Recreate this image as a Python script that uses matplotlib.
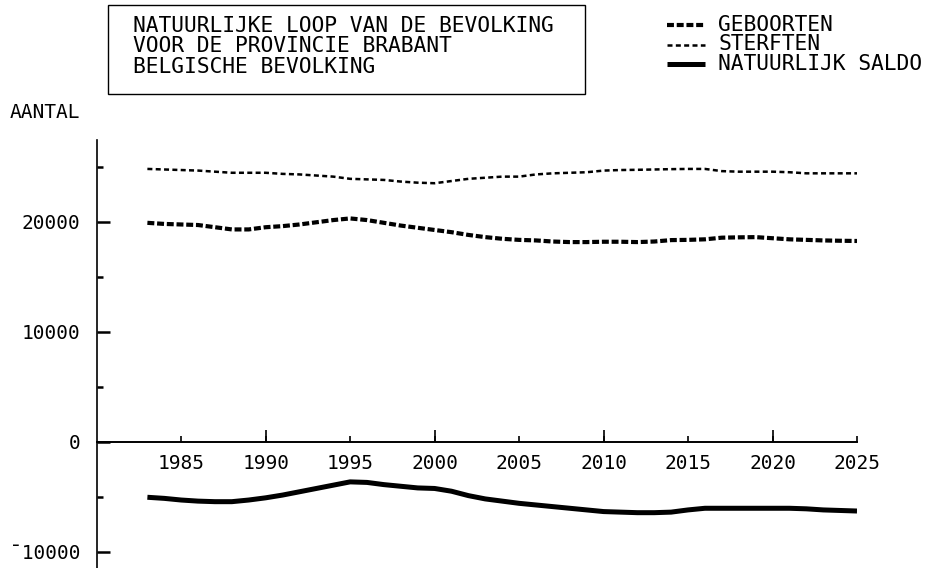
import numpy as np
import matplotlib
matplotlib.use('Agg')
from matplotlib import pyplot as plt
from matplotlib.lines import Line2D
from matplotlib.patches import Rectangle

# years of the projection
jaren = list(range(1983, 2026))

# geboorten (births)
geboorten = [19900, 19800, 19750, 19700, 19500, 19300, 19300, 19500, 19600, 19750,
             19950, 20150, 20300, 20150, 19900, 19650, 19450, 19250, 19050, 18800,
             18600, 18450, 18350, 18300, 18200, 18150, 18150, 18180, 18180, 18150,
             18200, 18330, 18350, 18400, 18550, 18580, 18600, 18500, 18400, 18350,
             18300, 18270, 18250]

# sterften (deaths)
sterften = [24800, 24750, 24700, 24650, 24550, 24450, 24450, 24450, 24350, 24300,
            24200, 24100, 23900, 23850, 23800, 23650, 23550, 23500, 23700, 23900,
            24000, 24100, 24100, 24300, 24400, 24450, 24500, 24650, 24700, 24720,
            24750, 24780, 24800, 24800, 24600, 24550, 24550, 24550, 24500, 24400,
            24400, 24400, 24400]

# natuurlijk saldo
saldo = [-5050, -5150, -5300, -5400, -5450, -5450, -5300, -5100, -4850, -4550,
         -4250, -3950, -3650, -3700, -3900, -4050, -4200, -4250, -4500, -4900,
         -5200, -5400, -5600, -5750, -5900, -6050, -6200, -6350, -6400, -6450,
         -6450, -6400, -6200, -6050, -6050, -6050, -6050, -6050, -6050, -6100,
         -6200, -6250, -6300]

x_labels = list(range(1985, 2030, 5))
y_labels = ['¯10000', '0', '10000', '20000']
y_ticks = [-10000, 0, 10000, 20000]

titel = ['NATUURLIJKE LOOP VAN DE BEVOLKING',
         'VOOR DE PROVINCIE BRABANT',
         'BELGISCHE BEVOLKING']
legende = ['GEBOORTEN', 'STERFTEN', 'NATUURLIJK SALDO']

plt.rcParams['font.family'] = 'DejaVu Sans Mono'
plt.rcParams['lines.scale_dashes'] = False

W, H = 934, 568
fig = plt.figure(figsize=(W / 100, H / 100), dpi=100)
fig.patch.set_facecolor('white')

# axes placed in pixels: y-axis at x=97, x range 1980..2025 ends at x=857
left, right, top = 96.7, 857, 140
ax = fig.add_axes([left / W, 0, (right - left) / W, (H - top) / H])
ax.set_xlim(1980, 2025)
ax.set_ylim(-11480, 27430)

st_geb = dict(color='black', lw=3.0, dashes=[5, 2.0])
st_ste = dict(color='black', lw=1.8, dashes=[3.6, 2.4])
st_sal = dict(color='black', lw=3.6, solid_capstyle='butt')

ax.plot(jaren, geboorten, **st_geb)
ax.plot(jaren, sterften, **st_ste)
ax.plot(jaren, saldo, **st_sal)

# axes styling
for s in ['top', 'right']:
    ax.spines[s].set_visible(False)
ax.spines['bottom'].set_position(('data', 0))
ax.spines['bottom'].set_bounds(1980, 2025)
ax.spines['left'].set_linewidth(1.2)
ax.spines['bottom'].set_linewidth(1.4)

ax.set_xticks(x_labels)
ax.set_xticklabels([str(v) for v in x_labels])
ax.set_xticks([1990, 2000, 2010, 2020], minor=True)
ax.xaxis.remove_overlapping_locs = False
ax.tick_params(axis='x', which='major', direction='in', length=4, width=1.2,
               labelsize=14, pad=9)
ax.tick_params(axis='x', which='minor', direction='in', length=9, width=1.2)

ax.set_yticks(y_ticks)
ax.set_yticklabels(y_labels)
ax.set_yticks([-5000, 5000, 15000, 25000], minor=True)
ax.tick_params(axis='y', which='major', direction='in', length=9, width=1.8,
               labelsize=14, pad=12)
ax.tick_params(axis='y', which='minor', direction='in', length=4, width=1.8)

fig.text(10 / W, 1 - 112 / H, 'AANTAL', fontsize=14, va='center', ha='left')

# title box
fig.add_artist(Rectangle((108 / W, 1 - 94 / H), (585 - 108) / W, 89 / H,
                         transform=fig.transFigure, fill=False, lw=1.0,
                         edgecolor='black'))
for i, regel in enumerate(titel):
    fig.text(133 / W, 1 - (26 + 20.5 * i) / H, regel, fontsize=15.3,
             va='center', ha='left')

# legend drawn as a key at the top right
for i, (lab, st) in enumerate(zip(legende, [st_geb, st_ste, st_sal])):
    yy = 1 - (25 + 19.5 * i) / H
    fig.add_artist(Line2D([667 / W, 705 / W], [yy, yy], transform=fig.transFigure, **st))
    fig.text(718 / W, yy, lab, fontsize=15.3, va='center', ha='left')

plt.savefig('out.png', dpi=100)
